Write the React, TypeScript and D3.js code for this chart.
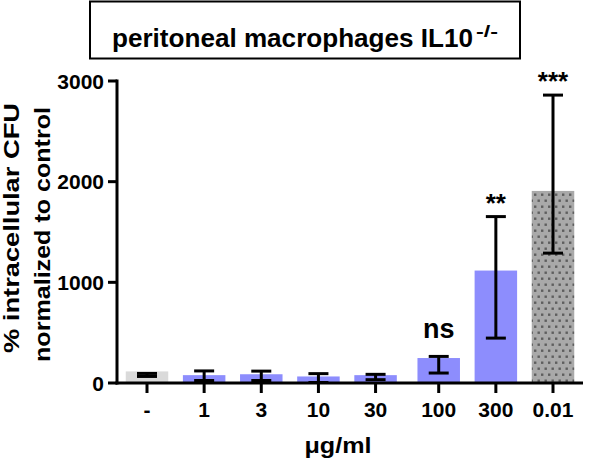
import React, { useEffect, useRef } from 'react';
import * as d3 from 'd3';

// Doses on the x axis
const categories = ['-', '1', '3', '10', '30', '100', '300', '0.01'];
// mean % intracellular CFU (normalized to control)
const means = [115, 78, 87, 65, 78, 248, 1117, 1908];
// error bar bounds
const errLow = [65, 25, 25, 5, 33, 99, 446, 1290];
const errHigh = [95, 120, 118, 93, 86, 264, 1653, 2860];
// bar kind: control, treated, reference
const kinds = ['control', 'dose', 'dose', 'dose', 'dose', 'dose', 'dose', 'ref'];
const significance = ['', '', '', '', '', 'ns', '**', '***'];
const yTicks = [0, 1000, 2000, 3000];

const FONT = 'Arial, "Liberation Sans", Helvetica, sans-serif';

export default function App() {
  const svgRef = useRef<SVGSVGElement | null>(null);

  useEffect(() => {
    if (!svgRef.current) return;
    const svg = d3.select(svgRef.current);
    svg.selectAll('*').remove();

    const width = 590;
    const height = 463;
    svg.attr('width', width).attr('height', height);

    // dotted pattern for the reference bar
    const defs = svg.append('defs');
    const pat = defs.append('pattern')
      .attr('id', 'dots')
      .attr('patternUnits', 'userSpaceOnUse')
      .attr('width', 7)
      .attr('height', 12)
      .attr('x', 533)
      .attr('y', 0);
    pat.append('rect').attr('width', 7).attr('height', 12).attr('fill', '#a9a9a9');
    pat.append('rect').attr('x', 1).attr('y', 1.5).attr('width', 2.4).attr('height', 2.4).attr('fill', '#5e5e5e');
    pat.append('rect').attr('x', 4.5).attr('y', 7.5).attr('width', 2.4).attr('height', 2.4).attr('fill', '#5e5e5e');

    const axisX = 117;
    const y = d3.scaleLinear().domain([0, 3000]).range([383, 81]);

    // positions: evenly spaced, with a small gap before the 100 group
    const idx = d3.scaleLinear().domain([0, categories.length - 1]).range([147, 547]);
    const groupGap = 6;
    const xc = (i: number) => idx(i) + (i >= 5 ? groupGap : 0);
    const barW = 42.5;
    const capW = 20;

    const fills: Record<string, string> = {
      control: '#dadada',
      dose: '#8d8dfd',
      ref: 'url(#dots)',
    };

    // bars
    svg.append('g')
      .selectAll('rect')
      .data(categories)
      .join('rect')
      .attr('x', (_, i) => xc(i) - barW / 2)
      .attr('y', (_, i) => y(means[i]))
      .attr('width', barW)
      .attr('height', (_, i) => y(0) - y(means[i]))
      .attr('fill', (_, i) => fills[kinds[i]]);

    // error bars
    const eb = svg.append('g')
      .attr('stroke', '#000')
      .attr('stroke-width', 3)
      .attr('fill', 'none');
    categories.forEach((_, i) => {
      const cx = xc(i);
      eb.append('line').attr('x1', cx).attr('x2', cx).attr('y1', y(errLow[i])).attr('y2', y(errHigh[i]));
      eb.append('line').attr('x1', cx - capW / 2).attr('x2', cx + capW / 2).attr('y1', y(errLow[i])).attr('y2', y(errLow[i]));
      eb.append('line').attr('x1', cx - capW / 2).attr('x2', cx + capW / 2).attr('y1', y(errHigh[i])).attr('y2', y(errHigh[i]));
    });

    // axes
    const ax = svg.append('g').attr('stroke', '#000').attr('stroke-width', 3);
    ax.append('line').attr('x1', axisX).attr('x2', axisX).attr('y1', y(3000) - 1.5).attr('y2', y(0) + 1.5);
    ax.append('line').attr('x1', axisX - 1.5).attr('x2', 583).attr('y1', y(0)).attr('y2', y(0));
    yTicks.forEach(t => {
      ax.append('line').attr('x1', axisX - 9).attr('x2', axisX).attr('y1', y(t)).attr('y2', y(t));
    });
    categories.forEach((_, i) => {
      ax.append('line').attr('x1', xc(i)).attr('x2', xc(i)).attr('y1', y(0)).attr('y2', y(0) + 10);
    });

    // y tick labels
    svg.append('g')
      .selectAll('text')
      .data(yTicks)
      .join('text')
      .attr('x', 104)
      .attr('y', d => y(d))
      .attr('dy', '0.36em')
      .attr('text-anchor', 'end')
      .attr('font-family', FONT)
      .attr('font-weight', 'bold')
      .attr('font-size', 21)
      .text(d => d);

    // x tick labels
    svg.append('g')
      .selectAll('text')
      .data(categories)
      .join('text')
      .attr('x', (_, i) => xc(i))
      .attr('y', 416.5)
      .attr('text-anchor', 'middle')
      .attr('font-family', FONT)
      .attr('font-weight', 'bold')
      .attr('font-size', 21)
      .text(d => d);

    // significance marks
    svg.append('g')
      .selectAll('text')
      .data(significance)
      .join('text')
      .attr('x', (_, i) => xc(i))
      .attr('y', (d, i) => y(errHigh[i]) - (d === 'ns' ? 18 : 5))
      .attr('text-anchor', 'middle')
      .attr('font-family', FONT)
      .attr('font-weight', 'bold')
      .attr('font-size', d => (d === 'ns' ? 27 : 26))
      .text(d => d);

    // x axis title
    svg.append('text')
      .attr('x', 338)
      .attr('y', 453)
      .attr('text-anchor', 'middle')
      .attr('font-family', FONT)
      .attr('font-weight', 'bold')
      .attr('font-size', 22)
      .attr('textLength', 67)
      .attr('lengthAdjust', 'spacingAndGlyphs')
      .text('μg/ml');

    // y axis title (two lines)
    const yl = [
      { text: '% intracellular CFU', x: 18.5, cy: 228, len: 250 },
      { text: 'normalized to control', x: 50, cy: 234.5, len: 255 },
    ];
    yl.forEach(l => {
      svg.append('text')
        .attr('transform', `translate(${l.x},${l.cy}) rotate(-90)`)
        .attr('text-anchor', 'middle')
        .attr('font-family', FONT)
        .attr('font-weight', 'bold')
        .attr('font-size', 22)
        .attr('textLength', l.len)
        .attr('lengthAdjust', 'spacingAndGlyphs')
        .text(l.text);
    });

    // title box
    svg.append('rect')
      .attr('x', 90)
      .attr('y', 1.5)
      .attr('width', 430)
      .attr('height', 57)
      .attr('fill', '#fff')
      .attr('stroke', '#000')
      .attr('stroke-width', 2);
    svg.append('text')
      .attr('x', 112)
      .attr('y', 46.5)
      .attr('font-family', FONT)
      .attr('font-weight', 'bold')
      .attr('font-size', 25)
      .attr('textLength', 361)
      .attr('lengthAdjust', 'spacingAndGlyphs')
      .text('peritoneal macrophages IL10');
    svg.append('text')
      .attr('x', 476)
      .attr('y', 37)
      .attr('font-family', FONT)
      .attr('font-weight', 'bold')
      .attr('font-size', 16)
      .attr('textLength', 22)
      .attr('lengthAdjust', 'spacingAndGlyphs')
      .text('-/-');
  }, []);

  return (
    <svg ref={svgRef} style={{ position: 'absolute', left: 0, top: 0, display: 'block' }}></svg>
  );
}
